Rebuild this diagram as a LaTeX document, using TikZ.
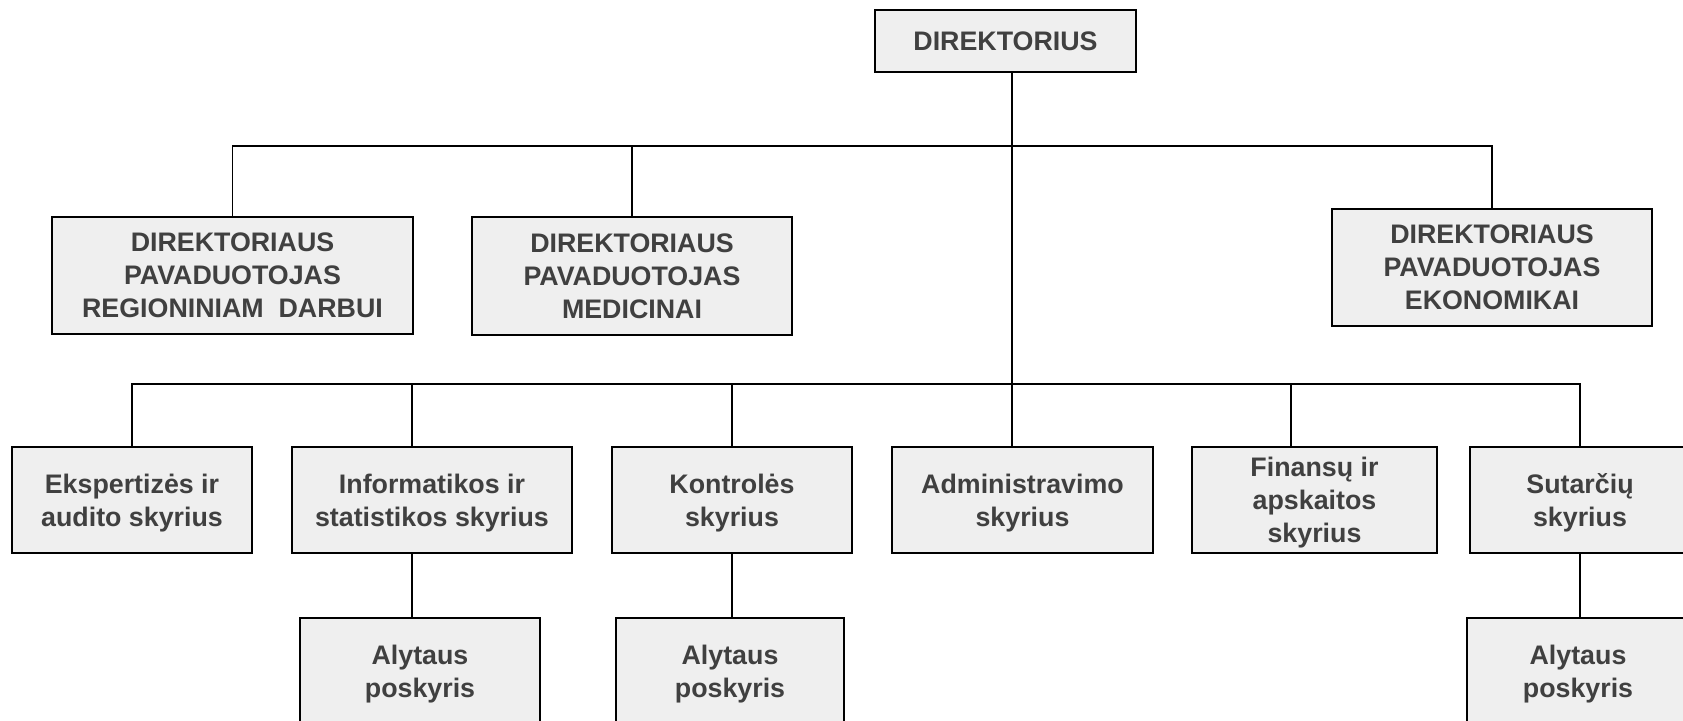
\documentclass[tikz,border=0pt]{standalone}
\usepackage{fontspec}
\setmainfont{Liberation Sans}
\usetikzlibrary{positioning,calc}
\definecolor{boxfill}{HTML}{EFEFEF}
\definecolor{boxtext}{HTML}{404040}

\begin{document}
\begin{tikzpicture}[
    x=0.5pt, y=-0.5pt,
    unit/.style={draw, line width=0.8pt, fill=boxfill, align=center, inner sep=2pt,
        text=boxtext, font=\fontsize{13.4pt}{16.6pt}\selectfont\bfseries},
    dept/.style={unit, minimum height=53pt, text depth=-2pt},
    link/.style={line width=0.65pt}
]
\useasboundingbox (0,0) rectangle (1683,721);
\clip (0,0) rectangle (1683,721);

\node[unit, minimum width=130.5pt, minimum height=31pt, text depth=-1.5pt] (dir) at (1005.5,41) {DIREKTORIUS};

\node[unit, minimum width=180.5pt, minimum height=58.5pt] (regdep) at (232.5,275.5) {DIREKTORIAUS\\PAVADUOTOJAS\\REGIONINIAM\ \ DARBUI};
\node[unit, minimum width=160pt, minimum height=59pt] (meddep) at (632,276) {DIREKTORIAUS\\PAVADUOTOJAS\\MEDICINAI};
\node[unit, minimum width=160pt, minimum height=58.5pt] (ekodep) at (1492,267.5) {DIREKTORIAUS\\PAVADUOTOJAS\\EKONOMIKAI};

\node[dept, minimum width=120pt] (eks) at (132,500) {Ekspertizės ir\\audito skyrius};
\node[dept, minimum width=140pt] (inf) at (432,500) {Informatikos ir\\statistikos skyrius};
\node[dept, minimum width=120pt] (kon) at (732,500) {Kontrolės\\skyrius};
\node[dept, minimum width=130.5pt] (adm) at (1022.5,500) {Administravimo\\skyrius};
\node[dept, minimum width=122.5pt] (fin) at (1314.5,500) {Finansų ir\\apskaitos\\skyrius};
\node[dept, minimum width=110pt] (sut) at (1580,500) {Sutarčių\\skyrius};

\node[dept, minimum width=120pt] (alyinf) at (420,671) {Alytaus\\poskyris};
\node[dept, minimum width=114pt] (alykon) at (730,671) {Alytaus\\poskyris};
\node[dept, minimum width=111pt] (alysut) at (1578,671) {Alytaus\\poskyris};

% bus levels and off-centre drops
\coordinate (bus1) at (0,146);
\coordinate (bus2) at (0,384);
\coordinate (trunk) at (1012,0);
\coordinate (xinf) at (412,0);
\coordinate (xfin) at (1291,0);

\draw[link] (dir.south -| trunk) -- (adm.north -| trunk);

\draw[link] (regdep.north) |- (bus1 -| ekodep.north) -- (ekodep.north);
\draw[link] (meddep.north) -- (meddep.north |- bus1);

\draw[link] (eks.north) |- (bus2 -| sut.north) -- (sut.north);
\draw[link] (xinf |- bus2) -- (xinf |- inf.north);
\draw[link] (kon.north) -- (kon.north |- bus2);
\draw[link] (xfin |- bus2) -- (xfin |- fin.north);

\draw[link] (xinf |- inf.south) -- (xinf |- alyinf.north);
\draw[link] (kon.south) -- (kon.south |- alykon.north);
\draw[link] (sut.south) -- (sut.south |- alysut.north);
\end{tikzpicture}
\end{document}
